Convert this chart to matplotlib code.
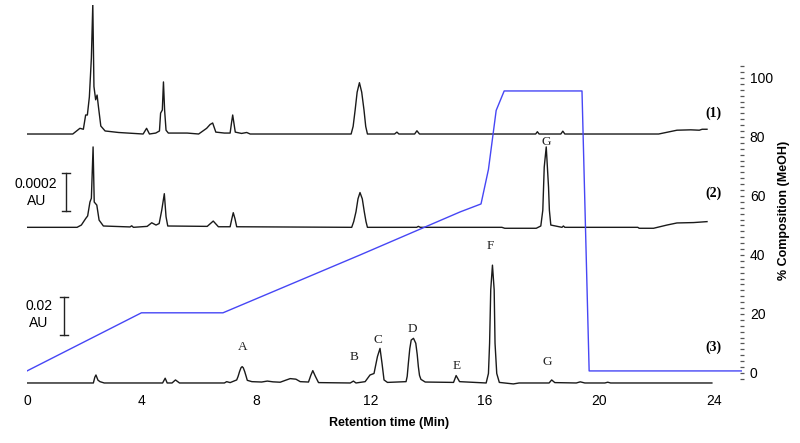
import numpy as np
import matplotlib
matplotlib.use('Agg')
import matplotlib.pyplot as plt

plt.rcParams['font.family'] = ['Liberation Sans', 'DejaVu Sans']

# chromatogram (1): retention time (min) / absorbance (x1e-4 AU)
t1 = [0, 1.6, 1.85, 1.97, 2.05, 2.11, 2.18, 2.25, 2.30, 2.34, 2.40, 2.45, 2.50, 2.58, 2.73, 3.2,
      4.06, 4.18, 4.28, 4.5, 4.63, 4.67, 4.73, 4.77, 4.81, 4.86, 4.94, 5.6, 6.0, 6.28, 6.4, 6.49, 6.6,
      6.9, 7.1, 7.15, 7.19, 7.23, 7.28, 7.5, 7.68, 7.8, 11.33, 11.40, 11.47, 11.54, 11.62, 11.70,
      11.78, 11.84, 11.9, 12.85, 12.93, 13.0,
      13.55, 13.63, 13.72, 17.78, 17.84, 17.9, 18.66, 18.73, 18.8, 22.08, 22.72, 23.2, 23.5, 23.6, 23.77]
h1 = [0, 0, 0.3, 0.25, 1.0, 1.0, 1.95, 4.0, 6.84, 2.5, 1.8, 2.05, 1.4, 0.42, 0.16, 0.08,
      0, 0.3, 0, 0.05, 0.16, 1.1, 1.26, 2.74, 1.26, 0.2, 0.05, 0.05, 0, 0.3, 0.5, 0.58, 0.1,
      0.05, 0.05, 0.6, 1.0, 0.6, 0.1, 0.03, 0.08, 0, 0, 0.4, 1.26, 2.2, 2.7, 2.2,
      1.26, 0.4, 0, 0, 0.1, 0,
      0, 0.17, 0, 0, 0.12, 0, 0, 0.15, 0, 0, 0.2, 0.22, 0.2, 0.25, 0.25]

# chromatogram (2): x1e-4 AU
t2 = [0, 1.75, 1.9, 2.05, 2.12, 2.2, 2.25, 2.31, 2.35, 2.44, 2.52, 2.67, 3.6, 3.66, 3.72, 4.2,
      4.36, 4.51, 4.62, 4.71, 4.80, 4.86, 4.92, 6.3, 6.51, 6.69, 7.1, 7.16, 7.21, 7.27, 7.33,
      11.35, 11.42, 11.5, 11.57, 11.64, 11.72, 11.79, 11.85, 11.9, 13.62, 13.68, 13.75, 16.6,
      16.7, 17.8, 17.96, 18.03, 18.08, 18.15,
      18.23, 18.26, 18.31, 18.7, 18.75, 18.8, 21.35, 21.4, 21.9, 22.37, 22.72, 23.3, 23.77]
h2 = [0, 0, 0.12, 0.46, 0.6, 1.33, 1.53, 4.23, 1.33, 1.17, 0.38, 0.07, 0.02, 0.08, 0, 0.05,
      0.24, 0.12, 0.2, 0.9, 1.77, 0.56, 0.07, 0.05, 0.33, 0.03, 0.03, 0.45, 0.77, 0.45, 0.03,
      0, 0.3, 0.82, 1.5, 1.83, 1.5, 0.82, 0.3, 0, 0, 0.05, 0, 0,
      -0.05, -0.05, 0.07, 0.9, 3.17, 4.23,
      2.12, 0.9, 0.12, 0, 0.07, 0, 0, -0.05, -0.05, 0.12, 0.23, 0.25, 0.3]

# chromatogram (3): x1e-2 AU
t3 = [0, 2.32, 2.37, 2.41, 2.48, 2.55, 2.7, 4.74, 4.83, 4.9, 5.07, 5.19, 5.33, 6.9, 6.98, 7.1,
      7.33, 7.38, 7.43, 7.48, 7.52, 7.56, 7.61, 7.66, 7.7, 7.86, 8.2, 8.4, 8.6, 8.85, 9.05, 9.2,
      9.4, 9.55, 9.84, 9.92, 9.99, 10.08, 10.19, 11.3, 11.41, 11.5, 11.82, 11.99, 12.13, 12.25,
      12.34, 12.41, 12.48, 12.6, 13.25, 13.29, 13.33, 13.38, 13.43, 13.51, 13.59, 13.64, 13.68,
      13.72, 13.77, 13.92, 14.91, 15.0, 15.12, 16.05, 16.13,
      16.17, 16.21, 16.27, 16.33, 16.36, 16.42, 16.51, 17.0, 17.2, 18.25, 18.34, 18.45, 19.2,
      19.34, 19.5, 20.2, 20.3, 20.4, 23.94]
h3 = [0, 0, 0.3, 0.42, 0.15, 0.07, 0, 0, 0.25, 0, 0, 0.16, 0, 0, 0.07, 0.02,
      0.16, 0.35, 0.6, 0.8, 0.86, 0.8, 0.6, 0.35, 0.14, 0.07, 0.05, 0.1, 0.06, 0.04, 0.15, 0.23,
      0.2, 0.07, 0.05, 0.4, 0.65, 0.35, 0.02, 0, 0.1, 0, 0.07, 0.42, 0.5, 1.39,
      1.82, 1.03, 0.16, 0.03, 0.07, 0.35, 1.03, 1.8, 2.26, 2.35, 2.09, 1.5, 0.86,
      0.4, 0.19, 0.05, 0.03, 0.39, 0.07, 0, 0.5,
      2.09, 4.9, 6.2, 4.9, 2.09, 0.5, 0.03, -0.05, 0, 0, 0.16, 0.02, 0,
      0.06, 0, 0, 0.04, 0, 0]

# vertical offsets of each trace
offsets = [13.1, 8.19, 0.0]
trace_labels = ['(1)', '(2)', '(3)']
label_y = [14.2, 10.0, 1.86]

# gradient programme (% MeOH)
grad_t = [0, 4.0, 6.85, 11.64, 15.14, 15.87, 16.13, 16.4, 16.68, 19.4, 19.65, 25]
grad_pct = [0.7, 20.4, 20.4, 40.0, 54.6, 57.3, 69.0, 89.0, 95.6, 95.6, 0.7, 0.7]

# peak letters
peak_names = ['A', 'B', 'C', 'D', 'E', 'F', 'G', 'G']
peak_x = [7.53, 11.44, 12.28, 13.47, 15.02, 16.19, 18.17, 18.15]
peak_y = [1.91, 1.38, 2.26, 2.82, 0.89, 7.21, 1.12, 12.7]

fig = plt.figure(figsize=(8, 4.43), dpi=100)
ax = fig.add_axes([0.03375, 0.1242, 0.894, 0.8646])
ax.set_xlim(0, 25)
ax.set_ylim(-0.263, 19.89)

for t, h, off in zip([t1, t2, t3], [h1, h2, h3], offsets):
    ax.plot(t, np.array(h) + off, color='#1a1a1a', lw=1.0)

for lab, y in zip(trace_labels, label_y):
    ax.text(23.99, y, lab, fontsize=10, fontweight='bold', family='Liberation Serif',
            ha='center', va='center')

for n, x, y in zip(peak_names, peak_x, peak_y):
    ax.text(x, y, n, fontsize=9.5, family='Liberation Serif', ha='center', va='center', color='#222222')

# scale bars
for xb, y0, y1 in [(1.36, 9.05, 11.05), (1.29, 2.53, 4.53)]:
    ax.plot([xb, xb], [y0, y1], color='#222222', lw=1.0)
    ax.plot([xb - 0.14, xb + 0.14], [y0, y0], color='#222222', lw=1.0)
    ax.plot([xb - 0.14, xb + 0.14], [y1, y1], color='#222222', lw=1.0)
ax.text(0.3, 10.47, '0.0002', fontsize=10, ha='center', va='center')
ax.text(0.35, 9.58, 'AU', fontsize=10, ha='center', va='center')
ax.text(0.42, 4.05, '0.02', fontsize=10, ha='center', va='center')
ax.text(0.42, 3.16, 'AU', fontsize=10, ha='center', va='center')

for s in ax.spines.values():
    s.set_visible(False)
ax.set_yticks([])
ax.set_xticks([0, 4, 8, 12, 16, 20, 24])
ax.tick_params(axis='x', length=0, labelsize=10, pad=4)
ax.set_xlabel('Retention time (Min)', fontsize=9, fontweight='bold')
ax.xaxis.set_label_coords(0.506, -0.077)

ax2 = ax.twinx()
ax2.set_ylim(-5.08, 124.75)
ax2.plot(grad_t, grad_pct, color='#4646f5', lw=1.0)
for s in ax2.spines.values():
    s.set_visible(False)
ax2.set_yticks([0, 20, 40, 60, 80, 100])
ax2.set_yticks(np.arange(-2, 105, 2), minor=True)
ax2.tick_params(axis='y', which='both', direction='inout', length=3, width=0.9,
                color='#555555', labelsize=10, pad=4)
ax2.set_ylabel('% Composition (MeOH)', fontsize=9, fontweight='bold')
ax2.yaxis.set_label_coords(1.05, 0.465)

fig.savefig('out.png', dpi=100)
